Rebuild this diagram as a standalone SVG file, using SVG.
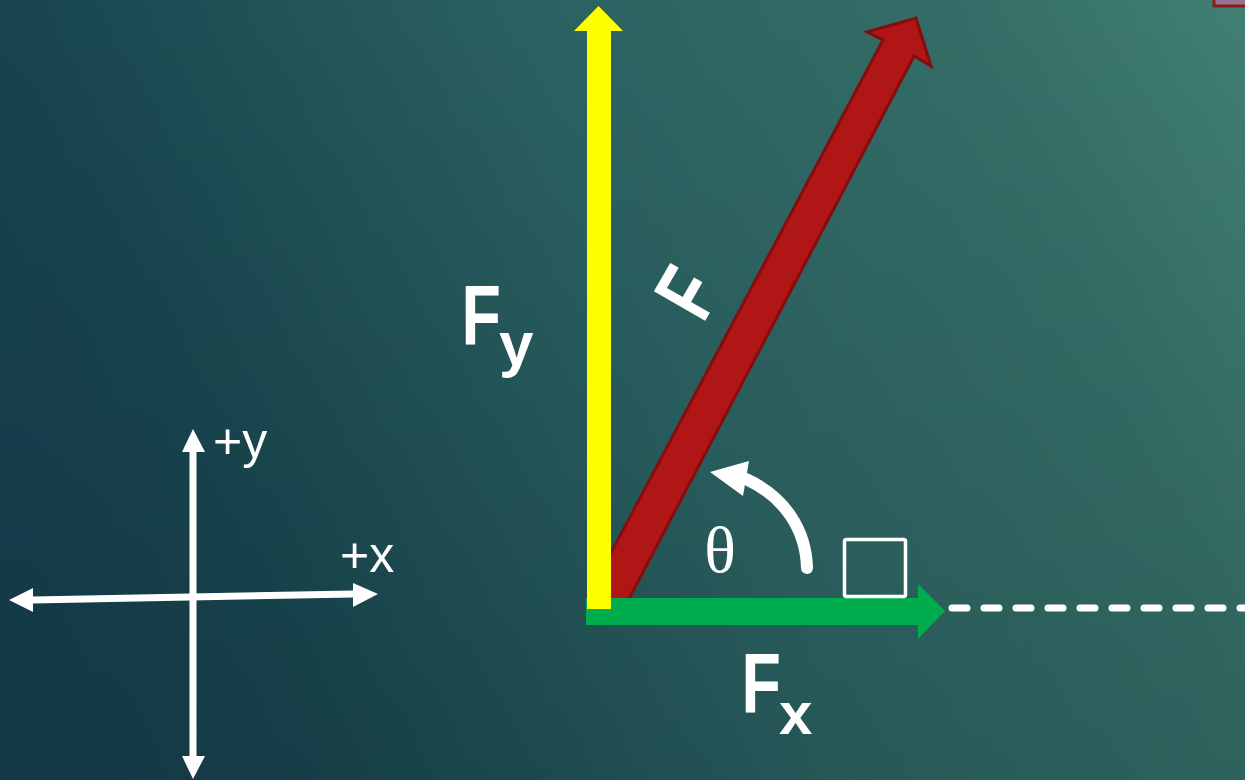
<svg xmlns="http://www.w3.org/2000/svg" width="1245" height="780" viewBox="0 0 1245 780">
<defs>
<linearGradient id="bg" gradientUnits="userSpaceOnUse" x1="0" y1="500" x2="1245" y2="0">
<stop offset="0" stop-color="#163f4e"/>
<stop offset="0.15" stop-color="#18454f"/>
<stop offset="0.5" stop-color="#2b6161"/>
<stop offset="0.8" stop-color="#346d67"/>
<stop offset="1" stop-color="#417f73"/>
</linearGradient>
<linearGradient id="shade" x1="0" y1="0" x2="0" y2="1">
<stop offset="0" stop-color="#000" stop-opacity="0"/>
<stop offset="1" stop-color="#000" stop-opacity="0.1"/>
</linearGradient>
<style>
.lbl{font-family:"Liberation Sans",Arial,sans-serif;font-weight:bold;fill:#fff}
.ax{font-family:"Liberation Sans",Arial,sans-serif;font-size:50px;fill:#fff}
.axis{stroke:#fff;stroke-width:7;fill:none}
.wh{fill:#fff}
</style>
</defs>
<rect width="1245" height="780" fill="url(#bg)"/>
<rect width="1245" height="780" fill="url(#shade)"/>
<rect x="1214" y="-20" width="60" height="26" fill="#957590" stroke="#8b1a1a" stroke-width="3"/>

<g id="axes">
<line class="axis" x1="193" y1="450" x2="193" y2="758"/>
<polygon class="wh" points="193,429 182,452 205,452"/>
<polygon class="wh" points="193,779 182,756 205,756"/>
<line class="axis" x1="32" y1="600" x2="354" y2="594"/>
<polygon class="wh" points="9,600 33,588 33,612"/>
<polygon class="wh" points="378,594 353,583 353,607"/>
<text class="ax" x="213" y="458">+y</text>
<text class="ax" x="340" y="572">+x</text>
</g>

<g id="connectors">
<g id="force-F">
<polygon points="588,596 883,40 867,32 916,18 931,66 914,56 622,612" fill="#b01616" stroke="#850d0d" stroke-width="3" stroke-linejoin="miter"/>
</g>
<g id="force-Fx">
<polygon points="586,598 918,598 918,584 945,611 918,639 918,625 586,625" fill="#00ad4e"/>
</g>
<g id="force-Fy">
<polygon points="587,609 587,31 574,31 598.5,6 623,31 611,31 611,609" fill="#ffff00"/>
</g>
<line x1="952" y1="608" x2="1245" y2="608" stroke="#fff" stroke-width="7" stroke-linecap="round" stroke-dasharray="15 17"/>
<g id="angle-arrow">
<path d="M807,568 C806,530 785,497 746,479" fill="none" stroke="#fff" stroke-width="12" stroke-linecap="round"/>
<polygon class="wh" points="710,472 749,461 743,496"/>
</g>
</g>

<g id="right-angle">
<rect x="844.5" y="539.5" width="61" height="57" rx="2" fill="none" stroke="#fff" stroke-width="3.5"/>
</g>

<g id="label-theta">
<text x="720" y="572" text-anchor="middle" font-family="'Liberation Serif','Times New Roman',serif" font-size="66" fill="#fff">θ</text>
</g>

<g id="label-Fy">
<text class="lbl" font-size="86" transform="translate(466,345) scale(0.75,1)" x="-6">F</text>
<text class="lbl" font-size="62" x="499" y="365">y</text>
</g>

<g id="label-Fx">
<text class="lbl" font-size="86" transform="translate(746,713) scale(0.75,1)" x="-6">F</text>
<text class="lbl" font-size="60" x="779" y="734">x</text>
</g>

<g id="label-F">
<text class="lbl" font-size="86" text-anchor="middle" transform="translate(686,292) rotate(-60) scale(0.75,1)" y="31">F</text>
</g>
</svg>
